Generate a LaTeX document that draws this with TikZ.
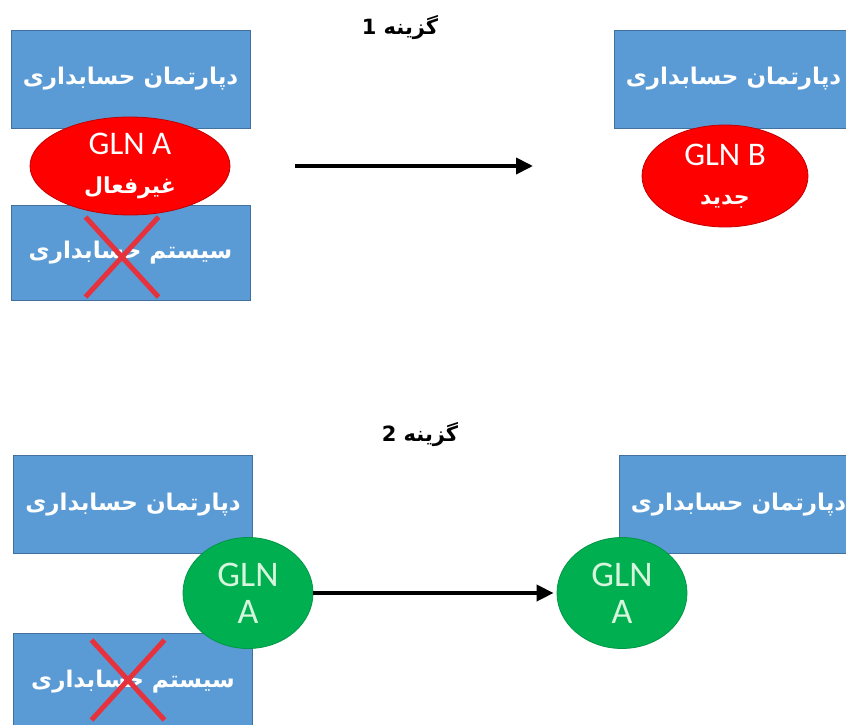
\documentclass[tikz,border=0pt]{standalone}
\usepackage{fontspec}
\setmainfont{Carlito}
\newfontfamily\farsi[Script=Arabic]{DejaVu Sans}
\TeXXeTstate=1
\usetikzlibrary{shapes.geometric,shapes.misc,arrows.meta}
\definecolor{boxblue}{RGB}{91,155,213}
\definecolor{boxedge}{RGB}{65,113,156}
\definecolor{glnred}{RGB}{255,0,0}
\definecolor{glnredge}{RGB}{192,0,0}
\definecolor{glngreen}{RGB}{0,176,80}
\definecolor{glngedge}{RGB}{0,150,70}
\definecolor{crossred}{RGB}{230,50,60}
\definecolor{greentext}{RGB}{215,245,220}
\begin{document}
\begin{tikzpicture}[x=1pt, y=-1pt,
    every node/.style={inner sep=0pt},
    dept/.style={rectangle, fill=boxblue, draw=boxedge, line width=0.8pt,
      minimum width=239pt, minimum height=98pt, text=white,
      font=\farsi\bfseries\fontsize{23}{27}\selectfont},
    redgln/.style={ellipse, fill=glnred, draw=glnredge, line width=0.8pt,
      text=white, align=center, font=\fontsize{33}{39}\selectfont},
    greengln/.style={ellipse, fill=glngreen, draw=glngedge, line width=0.8pt,
      minimum width=130pt, minimum height=111pt, text=greentext,
      align=center, font=\fontsize{36}{37}\selectfont},
    nocross/.style={cross out, draw=crossred, line width=5pt,
      minimum width=68pt, minimum height=75pt},
    option/.style={font=\farsi\bfseries\fontsize{21}{25}\selectfont},
    move/.style={-{Triangle[length=17pt,width=16pt]}, line width=3.8pt}]
  \useasboundingbox (0,0) rectangle (846,725);

  % Option 1
  \node[option] (opt1) at (400,28) {\beginR گزینه 1\endR};

  % Boxes before the change
  \node[dept] (deptA) at (130.5,79) {\beginR دپارتمان حسابداری\endR};
  \node[dept, minimum height=95pt] (sysA) at (130.5,252.5) {\beginR سیستم حسابداری\endR};

  % Old GLN, switched off
  \node[redgln, minimum width=200pt, minimum height=98pt] (glnA) at (130,166)
    {GLN A\\{\farsi\bfseries\fontsize{22}{39}\selectfont\beginR غیرفعال\endR}};
  \node[nocross] (xA) at (122,257) {};

  % Change
  \coordinate (go1) at (295,166);
  \coordinate (to1) at (533,166);
  \draw[move] (go1) -- (to1);

  % After the change: new GLN
  \node[dept] (deptB) at (733.5,79) {\beginR دپارتمان حسابداری\endR};
  \node[redgln, minimum width=166pt, minimum height=102pt] (glnB) at (725,176)
    {GLN B\\{\farsi\bfseries\fontsize{22}{37}\selectfont\beginR جدید\endR}};

  % Option 2
  \node[option] (opt2) at (420,435) {\beginR گزینه 2\endR};

  % Boxes before the change
  \node[dept] (deptC) at (133,504.5) {\beginR دپارتمان حسابداری\endR};
  \node[dept] (sysC) at (133,682) {\beginR سیستم حسابداری\endR};

  % Same GLN kept
  \node[greengln] (glnAL) at (248,593) {GLN\\A};
  \node[nocross] (xC) at (128,680) {};

  % After the change
  \node[dept] (deptD) at (738.5,504.5) {\beginR دپارتمان حسابداری\endR};
  \node[greengln] (glnAR) at (622,593) {GLN\\A};
  \draw[move, shorten >=3pt] (glnAL) -- (glnAR);
\end{tikzpicture}
\end{document}
